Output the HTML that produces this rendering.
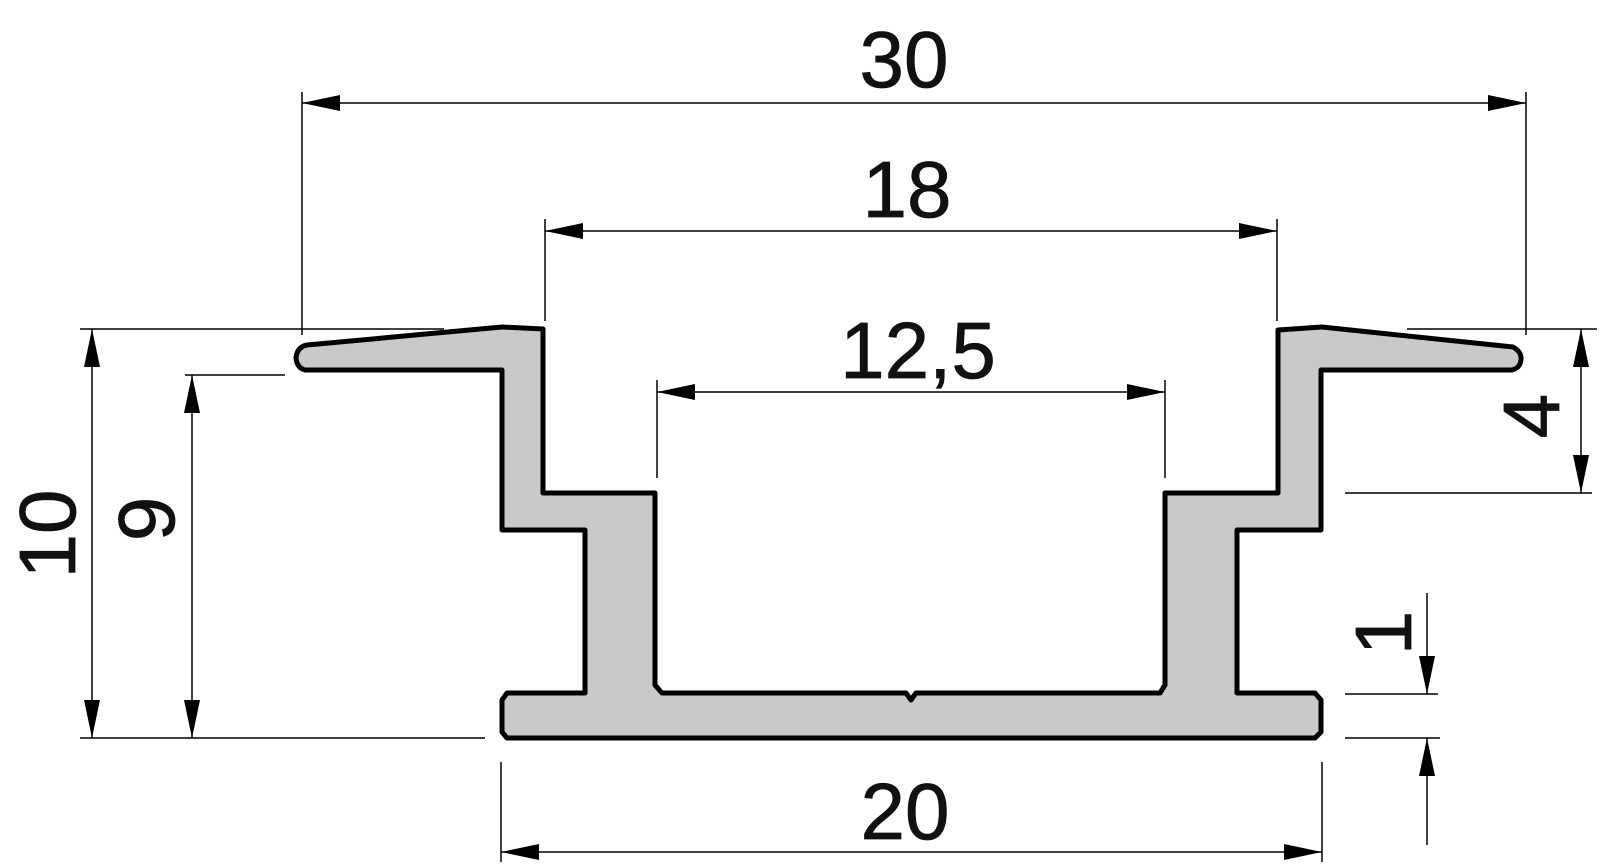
<!DOCTYPE html>
<html><head><meta charset="utf-8"><style>
html,body{margin:0;padding:0;background:#fff;}
svg{display:block}
text{font-family:"Liberation Sans",Arial,sans-serif;font-size:80px;fill:#111;stroke:#111;stroke-width:0.8;}
</style></head><body>
<svg width="1600" height="865" viewBox="0 0 1600 865" xmlns="http://www.w3.org/2000/svg">
<defs>
<marker id="a" viewBox="0 0 38 16" refX="38" refY="8" markerWidth="38" markerHeight="16" markerUnits="userSpaceOnUse" orient="auto">
<path d="M0,0 L38,8 L0,16 z" fill="#000"/></marker>
<marker id="s" viewBox="0 0 38 16" refX="38" refY="8" markerWidth="38" markerHeight="16" markerUnits="userSpaceOnUse" orient="auto-start-reverse">
<path d="M0,0 L38,8 L0,16 z" fill="#000"/></marker>
</defs>
<path d="M307,345 L502,327 L543,329 L543,493 L655,493 L655,685 L662,693 L906,693 L911,700 L916,693 L1160,693 L1165,685 L1165,493 L1278,493 L1278,330 L1322,327 L1513,347 Q1522,352 1521,360 Q1520,368 1512,370 L1321,370 L1321,530 L1237,530 L1237,693 L1315,693 L1321,700 L1321,732 L1315,738 L507,738 L502,732 L502,700 L507,693 L585,693 L585,530 L502,530 L502,370 L305,370 Q297,368 296,358 Q297,347 307,345 Z" fill="#c8c9cb" stroke="#000" stroke-width="5" stroke-linejoin="round"/>
<g stroke="#000" stroke-width="1.5" fill="none">
<line x1="302" y1="92" x2="302" y2="335"/>
<line x1="1526" y1="92" x2="1526" y2="335"/>
<line x1="302" y1="103" x2="1526" y2="103" marker-start="url(#s)" marker-end="url(#a)"/>
<line x1="545" y1="219" x2="545" y2="321"/>
<line x1="1277" y1="219" x2="1277" y2="321"/>
<line x1="545" y1="231" x2="1277" y2="231" marker-start="url(#s)" marker-end="url(#a)"/>
<line x1="657" y1="380" x2="657" y2="478"/>
<line x1="1165" y1="380" x2="1165" y2="478"/>
<line x1="657" y1="392" x2="1165" y2="392" marker-start="url(#s)" marker-end="url(#a)"/>
<line x1="501" y1="762" x2="501" y2="862"/>
<line x1="1322" y1="762" x2="1322" y2="862"/>
<line x1="501" y1="852" x2="1322" y2="852" marker-start="url(#s)" marker-end="url(#a)"/>
<line x1="80" y1="329" x2="444" y2="329"/>
<line x1="80" y1="738" x2="485" y2="738"/>
<line x1="92" y1="329" x2="92" y2="738" marker-start="url(#s)" marker-end="url(#a)"/>
<line x1="185" y1="375" x2="285" y2="375"/>
<line x1="192" y1="375" x2="192" y2="738" marker-start="url(#s)" marker-end="url(#a)"/>
<line x1="1407" y1="329" x2="1597" y2="329"/>
<line x1="1345" y1="493" x2="1592" y2="493"/>
<line x1="1581" y1="329" x2="1581" y2="493" marker-start="url(#s)" marker-end="url(#a)"/>
<line x1="1345" y1="694" x2="1438" y2="694"/>
<line x1="1345" y1="738" x2="1440" y2="738"/>
<line x1="1427" y1="593" x2="1427" y2="694" marker-end="url(#a)"/>
<line x1="1427" y1="845" x2="1427" y2="738" marker-end="url(#a)"/>
</g>
<text x="904" y="87" text-anchor="middle">30</text>
<text x="907" y="217" text-anchor="middle">18</text>
<text x="918" y="378" text-anchor="middle">12,5</text>
<text x="905" y="839" text-anchor="middle">20</text>
<text transform="translate(75,534) rotate(-90)" text-anchor="middle">10</text>
<text transform="translate(174,519) rotate(-90)" text-anchor="middle">9</text>
<text transform="translate(1559,416) rotate(-90)" text-anchor="middle">4</text>
<text transform="translate(1411,633) rotate(-90)" text-anchor="middle">1</text>
</svg>
</body></html>
